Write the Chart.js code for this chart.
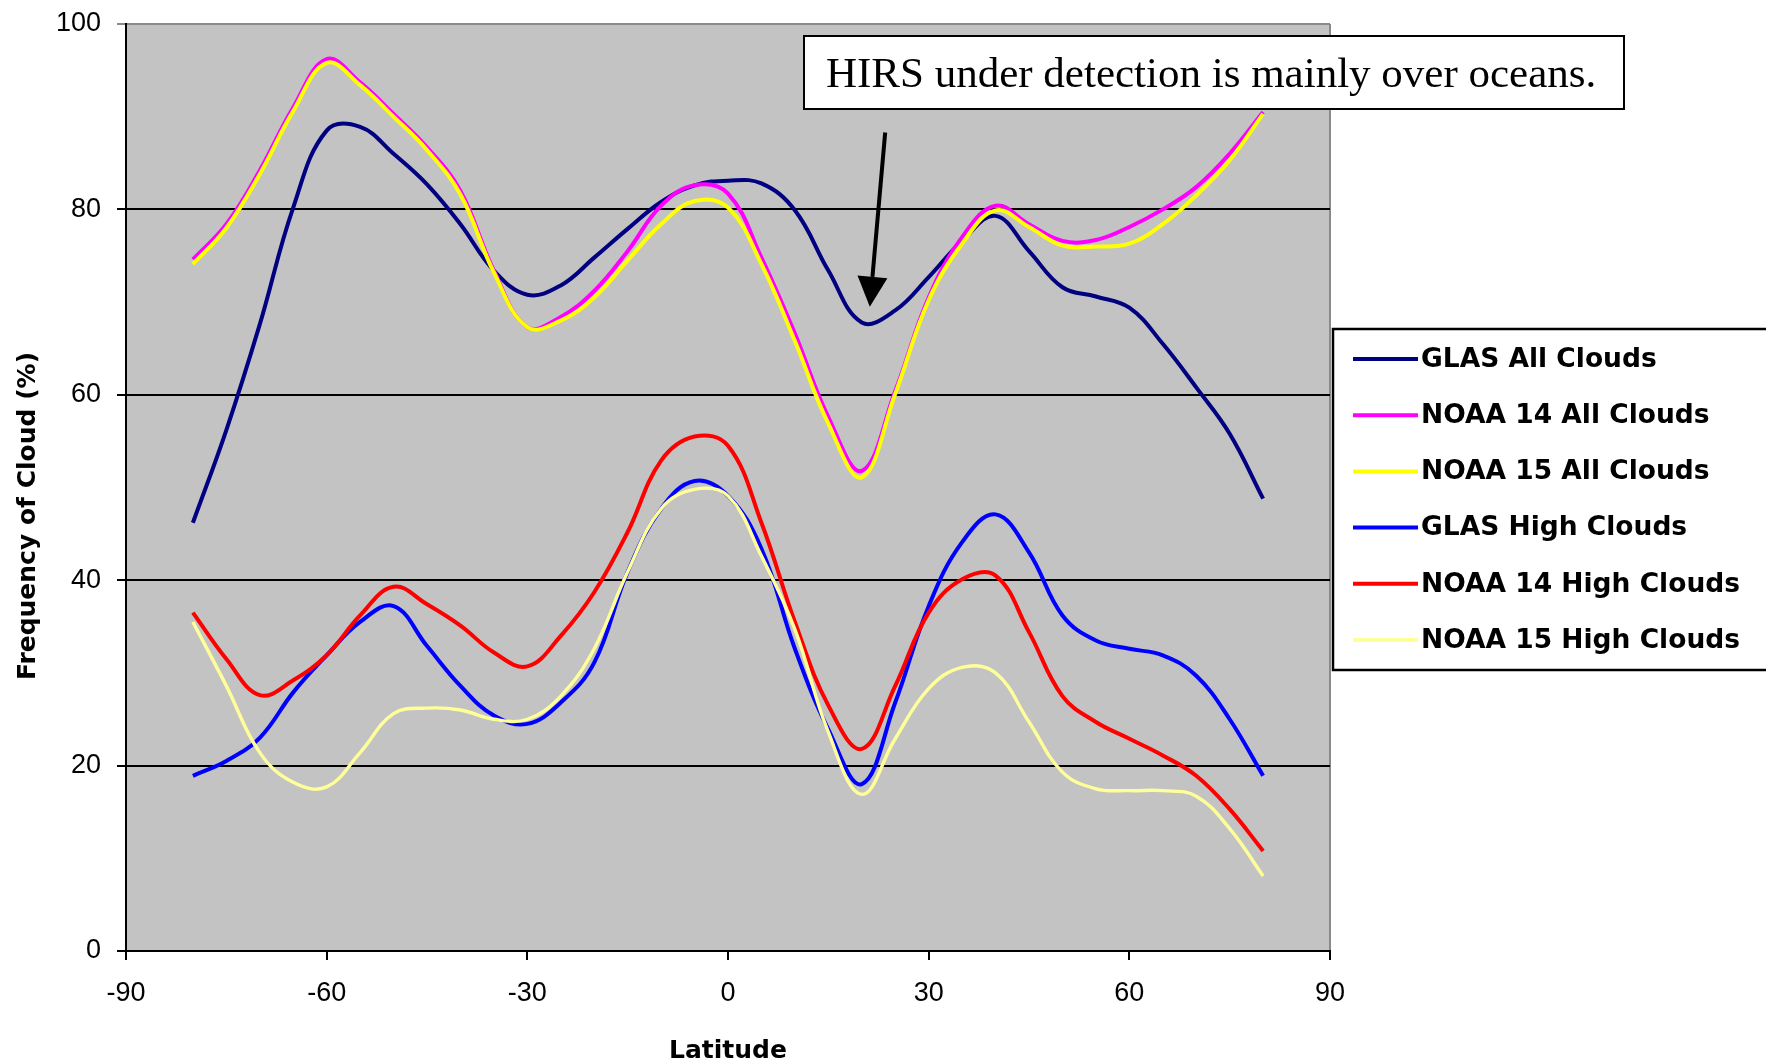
<!DOCTYPE html>
<html>
<head>
<meta charset="utf-8">
<script src="https://cdn.jsdelivr.net/npm/chart.js@4"></script>
<style>
  html, body { margin: 0; padding: 0; background: #ffffff; }
  #wrap { width: 1766px; height: 1064px; position: relative; }
</style>
</head>
<body>
<div id="wrap"><canvas id="c" width="1766" height="1064"></canvas></div>
<script>
// ---- data ----
const latitudes = [-80,-75,-70,-65,-60,-55,-50,-45,-40,-35,-30,-25,-20,-15,-10,-5,0,5,10,15,20,25,30,35,40,45,50,55,60,65,70,75,80];
const glasAll   = [46.2,56.2,67.6,80.2,88.5,88.9,86.0,82.7,78.4,73.4,70.8,71.8,74.8,77.9,80.8,82.6,83.1,82.8,79.9,73.4,67.8,69.1,72.7,76.6,79.3,75.5,71.6,70.6,69.4,65.5,60.8,55.8,48.8];
const noaa14All = [74.6,78.4,84.2,91.0,96.2,93.7,90.3,86.7,82.0,73.4,67.3,68.4,71.2,75.5,80.4,82.6,81.7,74.8,66.6,57.6,51.8,60.4,70.5,77.0,80.4,78.4,76.6,76.7,78.1,80.0,82.4,86.0,90.5];
const noaa15All = [74.1,78.0,83.8,90.6,95.8,93.4,90.0,86.4,81.6,73.2,67.3,68.0,70.5,74.5,78.4,80.9,80.2,74.1,65.8,56.9,51.1,60.1,70.2,76.3,79.9,78.1,76.1,76.0,76.3,78.4,81.5,85.3,90.3];
const glasHigh  = [18.9,20.5,23.0,27.9,31.9,35.5,37.2,32.9,28.6,25.4,24.5,26.8,31.1,40.9,47.7,50.7,49.1,43.4,32.6,23.9,18.0,26.8,37.2,44.1,47.1,43.0,36.2,33.5,32.6,31.9,29.7,25.0,18.9];
const noaa14High= [36.5,31.5,27.6,29.2,31.9,36.2,39.3,37.4,35.1,32.2,30.7,34.0,38.7,45.2,52.9,55.5,54.5,46.2,35.5,26.5,21.8,28.6,36.5,40.1,40.5,34.4,27.5,24.7,22.9,21.1,18.9,15.3,10.8];
const noaa15High= [35.5,28.6,21.4,18.2,17.7,21.4,25.6,26.2,26.0,25.0,25.0,27.5,32.6,40.9,47.7,49.8,49.1,42.6,34.7,23.6,16.9,22.9,28.3,30.6,30.0,24.7,19.3,17.5,17.3,17.3,16.7,13.2,8.1];

const seriesNames  = ["GLAS All Clouds","NOAA 14 All Clouds","NOAA 15 All Clouds","GLAS High Clouds","NOAA 14 High Clouds","NOAA 15 High Clouds"];
const seriesValues = [glasAll, noaa14All, noaa15All, glasHigh, noaa14High, noaa15High];
const seriesColors = ["#000080","#ff00ff","#ffff00","#0000ff","#ff0000","#ffff99"];

const xTickValues = [-90,-60,-30,0,30,60,90];
const yTickValues = [0,20,40,60,80,100];

const xTitle = "Latitude";
const yTitle = "Frequency of Cloud (%)";
const noteText = "HIRS under detection is mainly over oceans.";
// arrow in data coordinates (tail -> tip)
const arrowTail = {x: 23.5, y: 88.3};
const arrowTip  = {x: 21.2, y: 69.5};

// ---- layout constants ----
const PLOT_LEFT = 126, PLOT_RIGHT = 1330, PLOT_TOP = 24, PLOT_BOTTOM = 951;
const W = 1766, H = 1064;

const datasets = seriesNames.map((name, i) => ({
  label: name,
  data: latitudes.map((lat, j) => ({x: lat, y: seriesValues[i][j]})),
  borderColor: seriesColors[i],
  backgroundColor: seriesColors[i],
  borderWidth: i === 5 ? 3.4 : 4,
  pointRadius: 0,
  tension: 0.4,
  fill: false,
  order: 6 - i
}));

const decor = {
  id: 'decor',
  beforeDraw(chart) {
    const ctx = chart.ctx;
    const a = chart.chartArea;
    ctx.save();
    ctx.fillStyle = '#ffffff';
    ctx.fillRect(0, 0, W, H);
    ctx.fillStyle = '#c3c3c3';
    ctx.fillRect(a.left, a.top, a.right - a.left, a.bottom - a.top);
    ctx.strokeStyle = '#8a8a8a';
    ctx.lineWidth = 2;
    ctx.beginPath();
    ctx.moveTo(a.right, a.top);
    ctx.lineTo(a.right, a.bottom);
    ctx.stroke();
    ctx.restore();
  },
  afterDraw(chart) {
    const ctx = chart.ctx;
    const xs = chart.scales.x, ys = chart.scales.y;
    ctx.save();

    // axis titles
    ctx.fillStyle = '#000';
    ctx.font = 'bold 25px "DejaVu Sans"';
    ctx.textAlign = 'center';
    ctx.textBaseline = 'middle';
    ctx.fillText(xTitle, (PLOT_LEFT + PLOT_RIGHT) / 2, 1051);
    ctx.save();
    ctx.translate(28, 516);
    ctx.rotate(-Math.PI / 2);
    ctx.fillText(yTitle, 0, 0);
    ctx.restore();

    // annotation box
    const bx = 804, by = 36, bw = 820, bh = 73;
    ctx.fillStyle = '#ffffff';
    ctx.fillRect(bx, by, bw, bh);
    ctx.strokeStyle = '#000';
    ctx.lineWidth = 2;
    ctx.strokeRect(bx, by, bw, bh);
    ctx.fillStyle = '#000';
    ctx.font = '43px "Liberation Serif"';
    ctx.textAlign = 'left';
    ctx.textBaseline = 'alphabetic';
    ctx.fillText(noteText, 826, 87);

    // arrow
    const tx = xs.getPixelForValue(arrowTail.x), ty = ys.getPixelForValue(arrowTail.y);
    const hx = xs.getPixelForValue(arrowTip.x), hy = ys.getPixelForValue(arrowTip.y);
    const ang = Math.atan2(hy - ty, hx - tx);
    const headLen = 30, headHalf = 15;
    const bxp = hx - headLen * Math.cos(ang), byp = hy - headLen * Math.sin(ang);
    ctx.strokeStyle = '#000';
    ctx.lineWidth = 4;
    ctx.beginPath();
    ctx.moveTo(tx, ty);
    ctx.lineTo(bxp, byp);
    ctx.stroke();
    ctx.beginPath();
    ctx.moveTo(hx, hy);
    ctx.lineTo(bxp + headHalf * Math.sin(ang), byp - headHalf * Math.cos(ang));
    ctx.lineTo(bxp - headHalf * Math.sin(ang), byp + headHalf * Math.cos(ang));
    ctx.closePath();
    ctx.fillStyle = '#000';
    ctx.fill();

    // legend
    const lx = 1333, ly = 329, lh = 341;
    ctx.fillStyle = '#ffffff';
    ctx.fillRect(lx, ly, W - lx + 10, lh);
    ctx.strokeStyle = '#000';
    ctx.lineWidth = 2.5;
    ctx.strokeRect(lx, ly, W - lx + 20, lh);
    ctx.font = 'bold 26.5px "DejaVu Sans"';
    ctx.textBaseline = 'middle';
    ctx.textAlign = 'left';
    seriesNames.forEach((name, i) => {
      const yy = 359 + i * 56.2;
      ctx.strokeStyle = seriesColors[i];
      ctx.lineWidth = 4;
      ctx.beginPath();
      ctx.moveTo(1353, yy);
      ctx.lineTo(1418, yy);
      ctx.stroke();
      ctx.fillStyle = '#000';
      ctx.fillText(name, 1421, yy + 1);
    });
    ctx.restore();
  }
};

new Chart(document.getElementById('c'), {
  type: 'line',
  data: { datasets },
  options: {
    responsive: false,
    animation: false,
    devicePixelRatio: 1,
    layout: { padding: { top: PLOT_TOP, right: W - PLOT_RIGHT, left: 0, bottom: 0 } },
    plugins: { legend: { display: false }, tooltip: { enabled: false } },
    scales: {
      x: {
        type: 'linear',
        position: 'bottom',
        min: -90, max: 90,
        afterBuildTicks: s => { s.ticks = xTickValues.map(v => ({value: v})); },
        afterFit: s => { s.height = H - PLOT_BOTTOM; s.paddingLeft = 0; s.paddingRight = 0; },
        grid: { drawOnChartArea: false, drawTicks: true, tickLength: 9, color: '#000', lineWidth: 2 },
        border: { display: true, color: '#000', width: 2 },
        ticks: { color: '#000', font: { family: '"Liberation Sans", Arial', size: 27 }, padding: 17, maxRotation: 0, autoSkip: false }
      },
      y: {
        type: 'linear',
        min: 0, max: 100,
        afterBuildTicks: s => { s.ticks = yTickValues.map(v => ({value: v})); },
        afterFit: s => { s.width = PLOT_LEFT; s.paddingTop = 0; s.paddingBottom = 0; },
        grid: {
          drawTicks: true, tickLength: 9, lineWidth: 2,
          color: c => (c.tick && c.tick.value === 100) ? '#8a8a8a' : '#000'
        },
        border: { display: true, color: '#000', width: 2 },
        ticks: { color: '#000', font: { family: '"Liberation Sans", Arial', size: 27 }, padding: 16, autoSkip: false }
      }
    }
  },
  plugins: [decor]
});
</script>
</body>
</html>
